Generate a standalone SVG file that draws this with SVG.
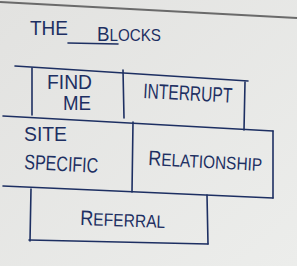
<svg xmlns="http://www.w3.org/2000/svg" width="300" height="271" viewBox="0 0 300 271">
<defs>
<linearGradient id="bg" x1="0" y1="0" x2="1" y2="1">
<stop offset="0" stop-color="#e2e2e0"/>
<stop offset="1" stop-color="#ecedeb"/>
</linearGradient>
</defs>
<style>
.pen{stroke:#1d2f62;stroke-width:1.6;fill:none;stroke-linecap:round}
.t{font-family:"Liberation Sans",Arial,sans-serif;fill:#1d2f62;font-size:21px}
</style>
<rect width="300" height="271" fill="#ffffff"/>
<rect width="297" height="266" fill="url(#bg)"/>
<path d="M0,2 L297,18" stroke="#6a6a6a" stroke-width="2" fill="none"/>
<g id="title">
<text class="t" x="30" y="35" font-size="24" textLength="38" lengthAdjust="spacingAndGlyphs">THE</text>
<text class="t" x="97" y="41" font-size="23" textLength="64" lengthAdjust="spacingAndGlyphs">B<tspan font-size="17">LOCKS</tspan></text>
<path class="pen" d="M68,43 L118,44"/>
</g>
<g id="lines">
<path class="pen" d="M15,66 L248,81"/>
<path class="pen" d="M32,68 L32,115"/>
<path class="pen" d="M123,70 L124,118"/>
<path class="pen" d="M245,82 L244,130"/>
<path class="pen" d="M3,116 L273,131"/>
<path class="pen" d="M133,122 L132,192"/>
<path class="pen" d="M273,131 L273,198"/>
<path class="pen" d="M3,186 L273,198"/>
<path class="pen" d="M31,189 L30,241"/>
<path class="pen" d="M29,240 L208,244"/>
<path class="pen" d="M207,195 L208,244"/>
</g>
<g id="find-me">
<text class="t" x="47" y="89" textLength="45" lengthAdjust="spacingAndGlyphs">FIND</text>
<text class="t" x="63" y="110" textLength="28" lengthAdjust="spacingAndGlyphs">ME</text>
</g>
<g id="interrupt">
<text class="t" x="143" y="98" textLength="89" lengthAdjust="spacingAndGlyphs" transform="rotate(3 143 98)">INTERRUPT</text>
</g>
<g id="site-specific">
<text class="t" x="24" y="141" textLength="43" lengthAdjust="spacingAndGlyphs">SITE</text>
<text class="t" x="24" y="169" textLength="74" lengthAdjust="spacingAndGlyphs" transform="rotate(3 24 169)">SPECIFIC</text>
</g>
<g id="relationship">
<text class="t" x="148" y="165" font-size="22" textLength="114" lengthAdjust="spacingAndGlyphs" transform="rotate(3 148 165)">R<tspan font-size="18">ELATIONSHIP</tspan></text>
</g>
<g id="referral">
<text class="t" x="80" y="225" font-size="22" textLength="85" lengthAdjust="spacingAndGlyphs" transform="rotate(2 80 225)">R<tspan font-size="18">EFERRAL</tspan></text>
</g>
</svg>
